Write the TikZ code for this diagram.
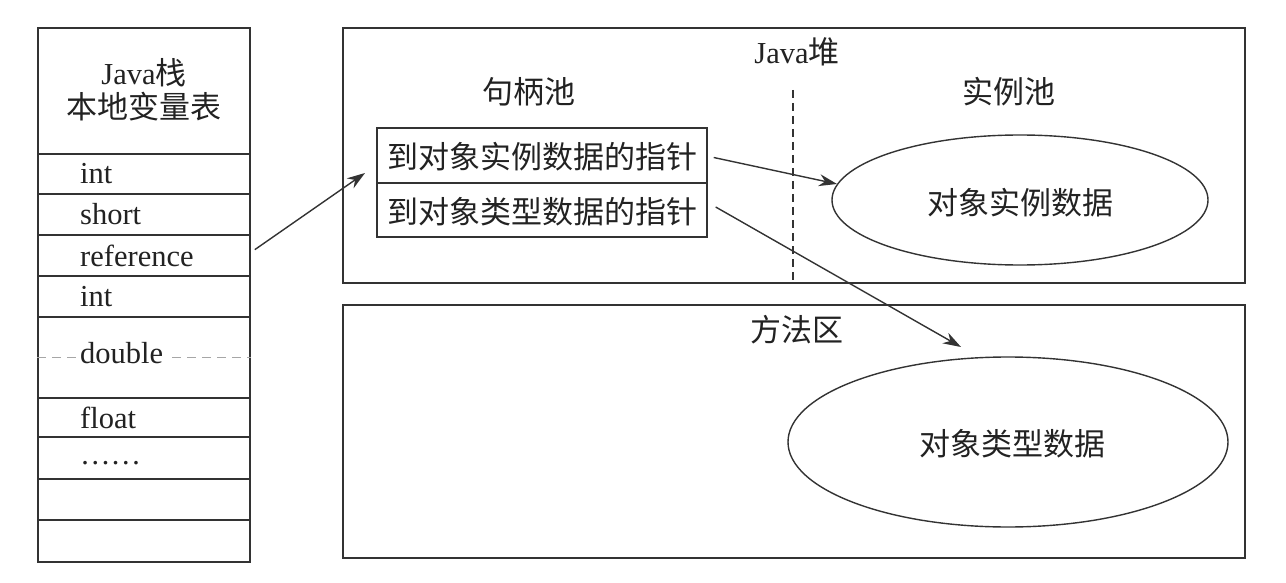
\documentclass[tikz,border=0pt]{standalone}
\usepackage{fontspec}
\setmainfont{Liberation Serif}
\newfontfamily\cjk{Noto Sans CJK SC}
\usetikzlibrary{shapes.geometric,arrows.meta}
\definecolor{lc}{HTML}{333333}
\definecolor{tc}{HTML}{222222}
\newcommand{\zhtxt}[1]{{\cjk #1}}
\begin{document}
\begin{tikzpicture}[x=1pt,y=-1pt,
  box/.style={draw=lc, line width=1.4pt, inner sep=0pt},
  lbl/.style={text=tc, font=\fontsize{30.5}{35}\selectfont, inner sep=0pt},
  zhl/.style={text=tc, font=\cjk\fontsize{31}{35}\selectfont, inner sep=0pt},
  oval/.style={draw=lc, line width=1.4pt, ellipse, inner sep=0pt},
  arr/.style={draw=lc, line width=1.4pt, -{Stealth[length=18pt,width=12pt]}}]
\useasboundingbox (0,0) rectangle (1286,583);
% ---- Java stack ----
\node[box, minimum width=212pt, minimum height=126pt] (hdr) at (144,91) {};
\node[lbl, align=center] (hdrt) at (144,90) {Java{\cjk\fontsize{31}{35}\selectfont 栈}\\[-1pt]{\cjk\fontsize{31}{35}\selectfont 本地变量表}};
\node[box, minimum width=212pt, minimum height=40pt] (r1) at (144,174) {};
\node[box, minimum width=212pt, minimum height=41pt] (r2) at (144,214.5) {};
\node[box, minimum width=212pt, minimum height=41pt] (r3) at (144,255.5) {};
\node[box, minimum width=212pt, minimum height=41pt] (r4) at (144,296.5) {};
\node[box, minimum width=212pt, minimum height=81pt] (r5) at (144,357.5) {};
\node[box, minimum width=212pt, minimum height=39pt] (r6) at (144,417.5) {};
\node[box, minimum width=212pt, minimum height=42pt] (r7) at (144,458) {};
\node[box, minimum width=212pt, minimum height=41pt] (r8) at (144,499.5) {};
\node[box, minimum width=212pt, minimum height=42pt] (r9) at (144,541) {};
\draw[gray!70, line width=1pt, dash pattern=on 9pt off 6pt] (r5.west) -- (r5.east);
\node[lbl, anchor=base west] (t1) at (80,184) {int};
\node[lbl, anchor=base west] (t2) at (80,224) {short};
\node[lbl, anchor=base west] (t3) at (80,266) {reference};
\node[lbl, anchor=base west] (t4) at (80,306) {int};
\node[lbl, anchor=base west, fill=white, inner sep=3pt] (t5) at (77,363) {double};
\node[lbl, anchor=base west] (t6) at (80,428) {float};
\node[lbl, anchor=base west] (t7) at (80,464) {……};
% ---- Java heap ----
\node[box, minimum width=902pt, minimum height=255pt] (heap) at (794,155.5) {};
\node[lbl] (heapt) at (797,52) {Java{\cjk\fontsize{31}{35}\selectfont 堆}};
\coordinate (dtop) at (793,90);
\draw[lc, line width=1.2pt, dash pattern=on 8pt off 5pt] (dtop) -- (dtop |- heap.south);
\node[zhl] (hpool) at (529,92) {句柄池};
\node[zhl] (ipool) at (1009,92) {实例池};
\node[box, minimum width=330pt, minimum height=55pt] (h1) at (542,155.5) {};
\node[box, minimum width=330pt, minimum height=54pt] (h2) at (542,210) {};
\node[zhl] (h1t) at (542,157) {到对象实例数据的指针};
\node[zhl] (h2t) at (542,212) {到对象类型数据的指针};
\node[oval, minimum width=376pt, minimum height=130pt] (e1) at (1020,200) {};
\node[zhl] (e1t) at (1020,203) {对象实例数据};
% ---- method area ----
\node[box, minimum width=902pt, minimum height=253pt] (meth) at (794,431.5) {};
\node[zhl] (metht) at (797,330) {方法区};
\node[oval, minimum width=440pt, minimum height=170pt] (e2) at (1008,442) {};
\node[zhl] (e2t) at (1012,444) {对象类型数据};
% ---- arrows ----
\coordinate (a1e) at (365,173);
\coordinate (a3e) at (961,347);
\draw[arr, shorten <=5pt] ([yshift=3pt]r3.east) -- (a1e);
\draw[arr] ([xshift=6pt,yshift=-2pt]h1.east) -- (e1.175);
\draw[arr] ([xshift=8pt,yshift=3pt]h2.east) -- (a3e);
\end{tikzpicture}
\end{document}
